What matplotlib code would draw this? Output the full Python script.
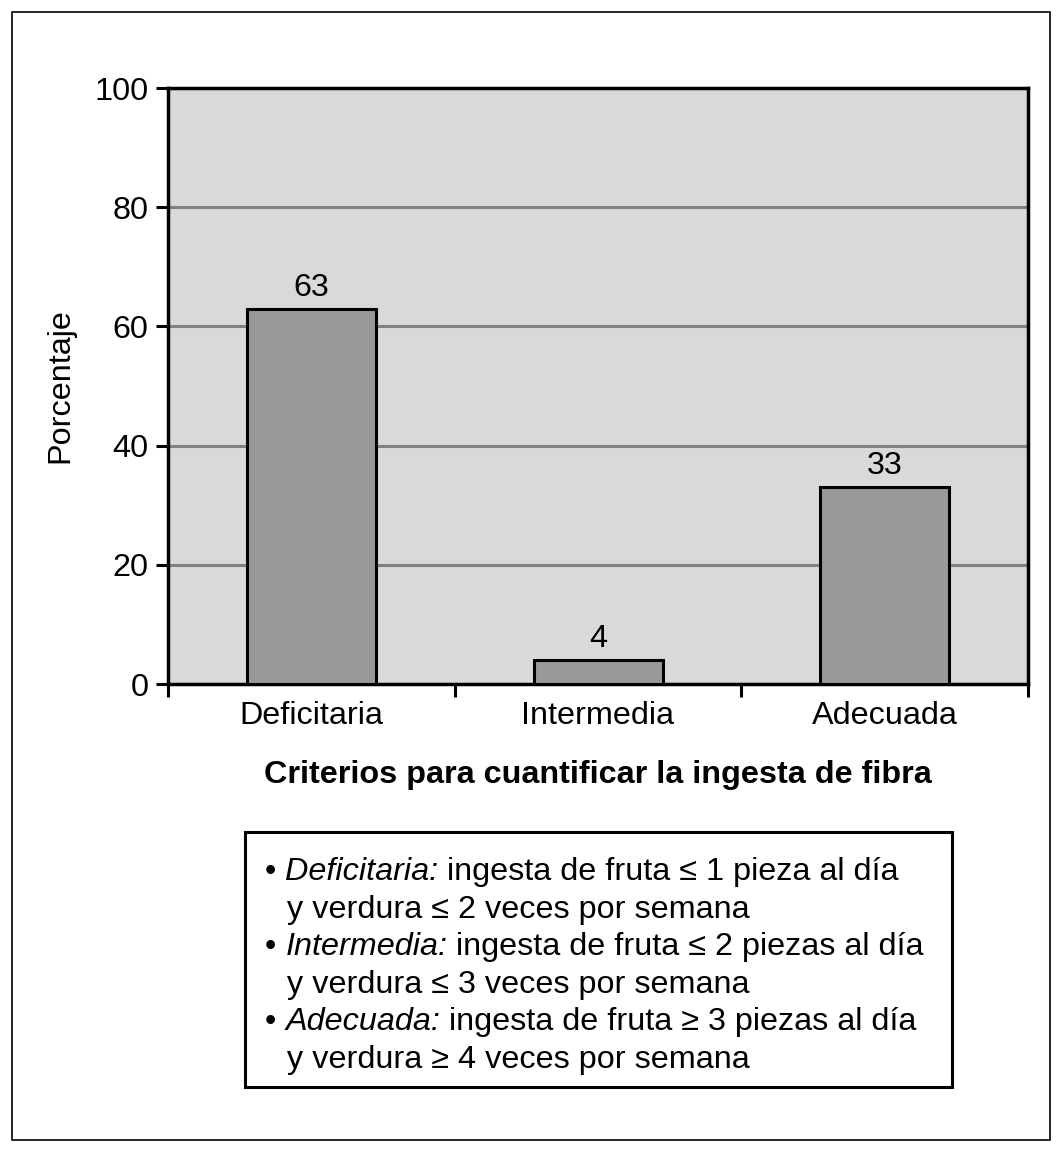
import matplotlib
matplotlib.use('Agg')
import matplotlib.pyplot as plt
from matplotlib.patches import Rectangle

plt.rcParams['font.family'] = ['Liberation Sans', 'DejaVu Sans']

categorias = ['Deficitaria', 'Intermedia', 'Adecuada']
porcentajes = [63, 4, 33]
yticks = [0, 20, 40, 60, 80, 100]

notas = [
    ('Deficitaria:', ' ingesta de fruta \u2264 1 pieza al día', 'y verdura \u2264 2 veces por semana'),
    ('Intermedia:', ' ingesta de fruta \u2264 2 piezas al día', 'y verdura \u2264 3 veces por semana'),
    ('Adecuada:', ' ingesta de fruta \u2265 3 piezas al día', 'y verdura \u2265 4 veces por semana'),
]

W, H = 1063, 1151
fs = 23.3
fig = plt.figure(figsize=(W / 100, H / 100), dpi=100)
ax = fig.add_axes([168 / W, 1 - 684 / H, (1028 - 168) / W, (684 - 88) / H])
ax.set_facecolor('#d9d9d9')

x = range(len(categorias))
ax.bar(x, porcentajes, width=0.45, color='#999999', edgecolor='black', linewidth=2.2, zorder=3)
for xi, v in zip(x, porcentajes):
    ax.text(xi, v + 1.0, str(v), ha='center', va='bottom', fontsize=fs)

ax.set_xlim(-0.5, 2.5)
ax.set_ylim(0, 100)
ax.set_yticks(yticks)
ax.set_xticks(list(x))
ax.set_xticklabels(categorias)
ax.set_xticks([-0.5, 0.5, 1.5, 2.5], minor=True)
ax.tick_params(axis='x', which='major', length=0, labelsize=fs, pad=12)
ax.tick_params(axis='x', which='minor', length=9, width=2.2, direction='out')
ax.tick_params(axis='y', length=9, width=2.2, direction='out', labelsize=fs, pad=5)
ax.yaxis.grid(True, color='#808080', linewidth=2.2, zorder=1)
ax.set_axisbelow(True)
for s in ax.spines.values():
    s.set_linewidth(2.5)

ax.set_ylabel('Porcentaje', fontsize=fs, labelpad=14)
ax.set_xlabel('Criterios para cuantificar la ingesta de fibra', fontsize=fs, fontweight='bold', labelpad=21)

# marco exterior
fig.patches.append(Rectangle((12 / W, 1 - 1140 / H), (1050 - 12) / W, (1140 - 12) / H,
                             transform=fig.transFigure, fill=False, edgecolor='black', linewidth=1.2))
# recuadro de notas
fig.patches.append(Rectangle((245 / W, 1 - 1087 / H), (952 - 245) / W, (1087 - 832) / H,
                             transform=fig.transFigure, fill=False, edgecolor='black', linewidth=2.2))

fig.canvas.draw()
r = fig.canvas.get_renderer()
y0 = 880
paso = 37.6
for i, (it, resto, linea2) in enumerate(notas):
    yb = 1 - (y0 + 2 * i * paso) / H
    t1 = fig.text(265 / W, yb, '\u2022 ', fontsize=fs, va='baseline')
    e1 = t1.get_window_extent(r)
    t2 = fig.text(e1.x1 / W, yb, it, fontsize=fs, style='italic', va='baseline')
    e2 = t2.get_window_extent(r)
    fig.text(e2.x1 / W, yb, resto, fontsize=fs, va='baseline')
    fig.text(287 / W, 1 - (y0 + (2 * i + 1) * paso) / H, linea2, fontsize=fs, va='baseline')

fig.savefig('out.png', dpi=100)
